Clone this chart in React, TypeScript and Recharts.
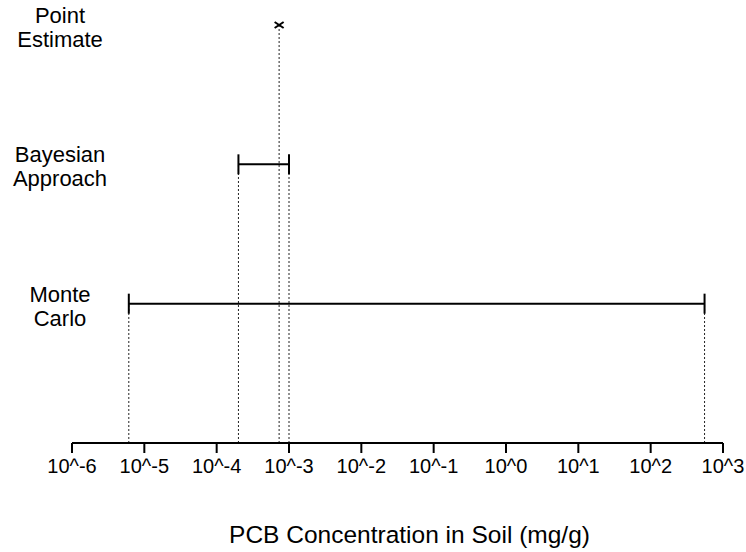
import { ScatterChart, Scatter, XAxis, YAxis, ReferenceLine, Label } from 'recharts';

// rows, bottom to top (y = 1, 2, 3)
const methods = ['Monte Carlo', 'Bayesian Approach', 'Point Estimate'];
const lowerBounds = [6.1e-6, 2.0e-4, 7.3e-4];
const upperBounds = [556, 1.0e-3, 7.3e-4];
const decadeTicks = [1e-6, 1e-5, 1e-4, 1e-3, 1e-2, 1e-1, 1, 10, 100, 1000];

const FONT = '"Liberation Sans", Arial, Helvetica, sans-serif';

const fmtDecade = (v: number) => `10^${Math.round(Math.log10(v))}`;

function MethodTick(props: any) {
  const { y, payload } = props;
  const name = methods[payload.value - 1] ?? '';
  const words = name.split(' ');
  return (
    <text x={60} y={y} textAnchor="middle" fontFamily={FONT} fontSize={22} fill="#000">
      {words.map((w: string, i: number) => (
        <tspan key={w} x={60} dy={i === 0 ? -2 : 24}>{w}</tspan>
      ))}
    </text>
  );
}

function CapShape(props: any) {
  const { cx, cy } = props;
  return <line x1={cx} y1={cy - 10} x2={cx} y2={cy + 10} stroke="#000" strokeWidth={2} />;
}

function CrossShape(props: any) {
  const { cx, cy } = props;
  return (
    <g stroke="#000" strokeWidth={2}>
      <line x1={cx - 4.5} y1={cy - 3} x2={cx + 4.5} y2={cy + 3} />
      <line x1={cx - 4.5} y1={cy + 3} x2={cx + 4.5} y2={cy - 3} />
    </g>
  );
}

export default function App() {
  const rows = methods.map((m, i) => ({ m, y: i + 1, lo: lowerBounds[i], hi: upperBounds[i] }));
  const rangeRows = rows.filter((r) => r.lo !== r.hi);
  const pointRows = rows.filter((r) => r.lo === r.hi);

  const drops: { x: number; y: number }[] = [];
  rows.forEach((r) => {
    drops.push({ x: r.lo, y: r.y });
    if (r.hi !== r.lo) drops.push({ x: r.hi, y: r.y });
  });

  return (
    <div style={{ position: 'absolute', left: 0, top: 0, background: '#fff' }}>
      <ScatterChart width={746} height={552} margin={{ top: 25, right: 23, bottom: 9, left: 0 }}>
        <XAxis
          dataKey="x"
          type="number"
          scale="log"
          domain={[1e-6, 1000]}
          ticks={decadeTicks}
          interval={0}
          tickFormatter={fmtDecade}
          height={100}
          tickSize={10}
          tickMargin={6}
          axisLine={{ stroke: '#000', strokeWidth: 2 }}
          tickLine={{ stroke: '#000', strokeWidth: 2 }}
          tick={{ fill: '#000', fontSize: 20, fontFamily: FONT }}
        >
          <Label
            value="PCB Concentration in Soil (mg/g)"
            position="insideBottom"
            offset={0}
            dx={12}
            fill="#000"
            fontSize={24.5}
            fontFamily={FONT}
          />
        </XAxis>
        <YAxis
          dataKey="y"
          type="number"
          domain={[0, 3]}
          ticks={[1, 2, 3]}
          width={72}
          axisLine={false}
          tickLine={false}
          tick={<MethodTick />}
        />
        {drops.map((d, i) => (
          <ReferenceLine
            key={i}
            segment={[{ x: d.x, y: 0 }, { x: d.x, y: d.y }]}
            stroke="#222"
            strokeWidth={1}
            strokeDasharray="2 2"
          />
        ))}
        {rangeRows.map((r) => (
          <Scatter
            key={r.m}
            name={r.m}
            data={[{ x: r.lo, y: r.y }, { x: r.hi, y: r.y }]}
            line={{ stroke: '#000', strokeWidth: 2 }}
            fill="#000"
            shape={<CapShape />}
            isAnimationActive={false}
          />
        ))}
        {pointRows.map((r) => (
          <Scatter
            key={r.m}
            name={r.m}
            data={[{ x: r.lo, y: r.y }]}
            fill="#000"
            shape={<CrossShape />}
            isAnimationActive={false}
          />
        ))}
      </ScatterChart>
    </div>
  );
}
